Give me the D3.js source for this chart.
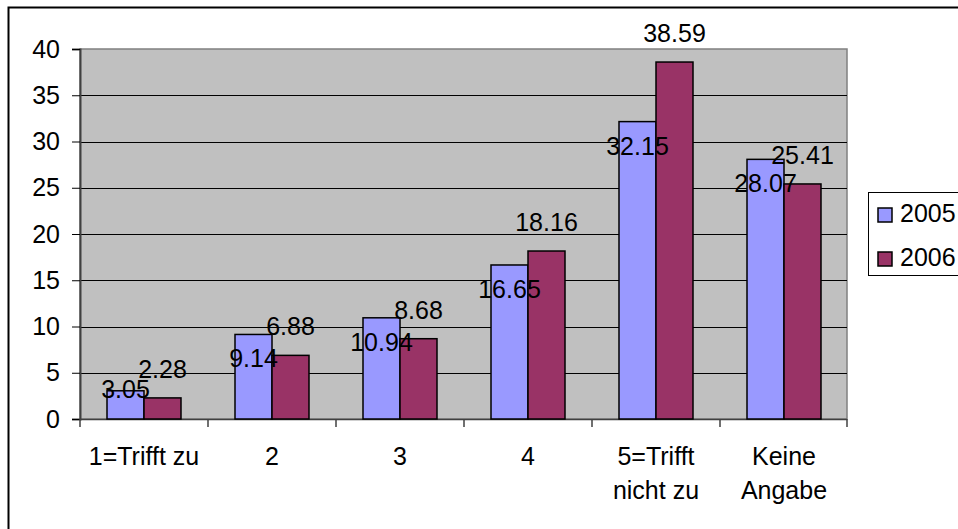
<!DOCTYPE html>
<html>
<head>
<meta charset="utf-8">
<script src="https://cdn.jsdelivr.net/npm/d3@7"></script>
<style>
  body { margin: 0; background: #fff; }
  text { font-family: "Liberation Sans", Arial, sans-serif; font-size: 25px; fill: #000; }
</style>
</head>
<body>
<div id="chart"></div>
<script>
var categories = [["1=Trifft zu"], ["2"], ["3"], ["4"], ["5=Trifft", "nicht zu"], ["Keine", "Angabe"]];
var seriesNames = ["2005", "2006"];
var values2005 = [3.05, 9.14, 10.94, 16.65, 32.15, 28.07];
var values2006 = [2.28, 6.88, 8.68, 18.16, 38.59, 25.41];
var yTicks = [0, 5, 10, 15, 20, 25, 30, 35, 40];
var colors = ["#9999ff", "#993366"];

var width = 958, height = 529;
var plotL = 80, plotR = 848, plotT = 49, plotB = 419;

var svg = d3.select("#chart").append("svg")
    .attr("width", width)
    .attr("height", height);

// outer frame of the chart
svg.append("rect")
    .attr("x", 8.5).attr("y", 7.5)
    .attr("width", 1000).attr("height", 1000)
    .style("fill", "white")
    .style("stroke", "black")
    .style("stroke-width", 2);

var y = d3.scaleLinear().domain([0, 40]).range([plotB, plotT]);
var x = d3.scaleBand().domain(d3.range(categories.length)).range([plotL, plotR]);
var xs = d3.scaleBand().domain([0, 1]).range([0, 74]);

// plot area
svg.append("rect")
    .attr("x", plotL).attr("y", plotT)
    .attr("width", plotR - plotL - 1).attr("height", plotB - plotT)
    .style("fill", "#c0c0c0")
    .style("stroke", "#808080")
    .style("stroke-width", 1.5);

// gridlines
svg.append("g").selectAll("line").data(yTicks.filter(function(d) { return d > 0 && d < 40; }))
    .enter().append("line")
    .attr("x1", plotL).attr("x2", plotR - 1)
    .attr("y1", function(d) { return Math.round(y(d)) + 0.5; })
    .attr("y2", function(d) { return Math.round(y(d)) + 0.5; })
    .style("stroke", "black")
    .style("stroke-width", 1);

// y axis
var yAxis = d3.axisLeft(y).tickValues(yTicks).tickSize(8).tickPadding(12);
var gy = svg.append("g").attr("transform", "translate(" + plotL + ",0)").call(yAxis);
gy.select(".domain").style("stroke", "#404040").style("stroke-width", 2);
gy.selectAll(".tick line").style("stroke", "black");
gy.selectAll("text").style("font-size", "25px").style("font-family", "Liberation Sans, Arial, sans-serif");

// x axis (ticks only between categories)
var gx = svg.append("g");
gx.append("line")
    .attr("x1", plotL).attr("x2", plotR - 1)
    .attr("y1", plotB + 0.5).attr("y2", plotB + 0.5)
    .style("stroke", "#404040").style("stroke-width", 1.5);
gx.selectAll("line.tk").data(d3.range(categories.length + 1)).enter().append("line")
    .attr("class", "tk")
    .attr("x1", function(d) { return plotL + d * x.bandwidth() - (d === categories.length ? 1 : 0); })
    .attr("x2", function(d) { return plotL + d * x.bandwidth() - (d === categories.length ? 1 : 0); })
    .attr("y1", plotB).attr("y2", plotB + 8)
    .style("stroke", "#404040").style("stroke-width", 1.5);

var labels = svg.append("g").selectAll("text").data(categories).enter().append("text")
    .attr("text-anchor", "middle")
    .attr("x", function(d, i) { return x(i) + x.bandwidth() / 2; })
    .attr("y", 465);
labels.selectAll("tspan").data(function(d) { return d; }).enter().append("tspan")
    .attr("x", function() { return d3.select(this.parentNode).attr("x"); })
    .attr("dy", function(d, i) { return i === 0 ? 0 : 34; })
    .text(function(d) { return d; });

// bars
var series = [values2005, values2006];
series.forEach(function(vals, s) {
    var g = svg.append("g");
    var bx = function(d, i) { return x(i) + (x.bandwidth() - 74) / 2 + xs(s); };
    g.selectAll("rect").data(vals).enter().append("rect")
        .attr("x", bx)
        .attr("y", function(d) { return y(d); })
        .attr("width", xs.bandwidth())
        .attr("height", function(d) { return plotB - y(d); })
        .style("fill", colors[s])
        .style("stroke", "black")
        .style("stroke-width", 1.5);
});

// value labels (2006 above the bar, 2005 pushed down into the bar like the original)
series.forEach(function(vals, s) {
    svg.append("g").selectAll("text").data(vals).enter().append("text")
        .attr("text-anchor", "middle")
        .attr("x", function(d, i) { return x(i) + (x.bandwidth() - 74) / 2 + xs(s) + xs.bandwidth() / 2; })
        .attr("y", function(d) {
            if (s === 1) return y(d) - 20;
            return Math.min(y(d) + 33, plotB - 21);
        })
        .text(function(d) { return d3.format(".2f")(d); });
});

// legend
var legend = svg.append("g");
legend.append("rect")
    .attr("x", 868.5).attr("y", 192.5)
    .attr("width", 200).attr("height", 83)
    .style("fill", "white")
    .style("stroke", "black")
    .style("stroke-width", 1);
var items = legend.selectAll("g").data(seriesNames).enter().append("g")
    .attr("transform", function(d, i) { return "translate(0," + (i * 44) + ")"; });
items.append("rect")
    .attr("x", 878).attr("y", 208)
    .attr("width", 14).attr("height", 14)
    .style("fill", function(d, i) { return colors[i]; })
    .style("stroke", "black")
    .style("stroke-width", 1.5);
items.append("text")
    .attr("x", 900).attr("y", 222)
    .text(function(d) { return d; });
</script>
</body>
</html>
